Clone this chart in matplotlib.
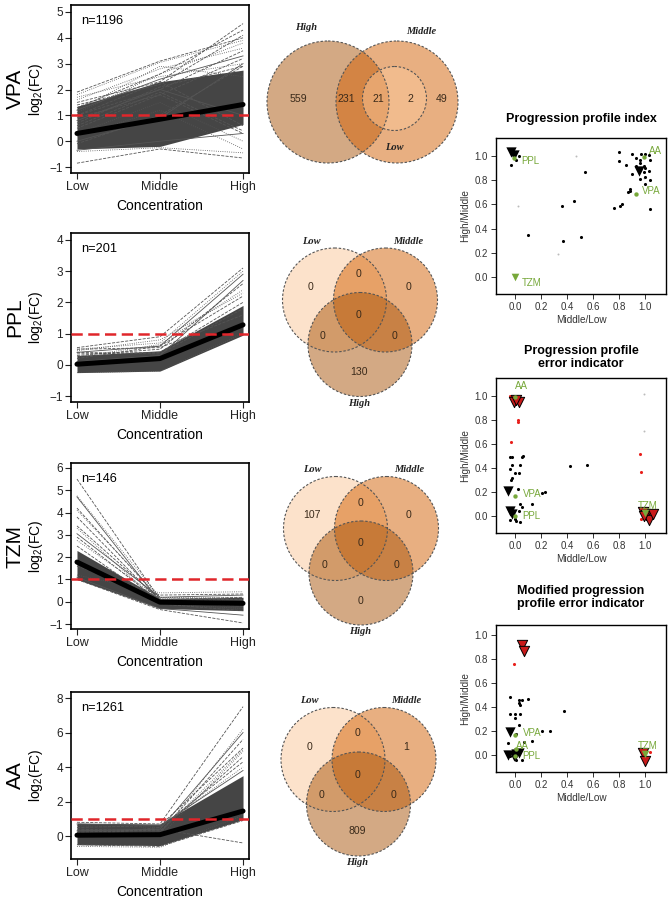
import matplotlib
matplotlib.use('Agg')
import matplotlib.pyplot as plt
from matplotlib.patches import Circle

plt.rcParams['font.family'] = ['Liberation Sans', 'DejaVu Sans']
plt.rcParams['mathtext.fontset'] = 'custom'
plt.rcParams['mathtext.rm'] = 'Liberation Sans'
plt.rcParams['mathtext.it'] = 'Liberation Sans:italic'
plt.rcParams['mathtext.default'] = 'regular'

# ---------------- data ----------------
conc_labels = ['Low', 'Middle', 'High']
compounds = ['VPA', 'PPL', 'TZM', 'AA']
n_genes = [1196, 201, 146, 1261]

vpa_mean = [0.30, 0.85, 1.42]
ppl_mean = [0.02, 0.20, 1.28]
tzm_mean = [1.78, -0.02, -0.07]
aa_mean = [0.05, 0.08, 1.45]

vpa_band_lo = [-0.30, -0.20, 0.65]
vpa_band_hi = [1.35, 2.30, 2.75]
ppl_band_lo = [-0.25, -0.20, 0.95]
ppl_band_hi = [0.30, 0.45, 1.90]
tzm_band_lo = [1.00, -0.30, -0.40]
tzm_band_hi = [2.30, 0.15, 0.20]
aa_band_lo = [-0.50, -0.55, 0.95]
aa_band_hi = [0.75, 0.70, 3.50]

vpa_lines = [[-0.85, -0.30, -0.65], [-0.40, -0.25, -0.45], [-0.35, 0.00, 0.30],
             [1.90, 3.10, 4.00], [1.80, 3.05, 3.90], [1.50, 2.30, 4.55],
             [1.30, 2.60, 4.30], [1.60, 2.80, 3.60], [1.20, 2.40, 3.30],
             [1.40, 2.20, 4.10], [1.70, 2.50, 3.00], [1.00, 2.00, 3.50],
             [0.90, 1.80, 3.20], [1.20, 2.90, 2.50], [0.80, 2.00, 1.00],
             [0.50, 1.80, 0.30], [0.30, 1.50, 0.00], [1.00, 2.30, 0.60],
             [0.60, 1.90, 0.40], [0.20, 1.20, -0.30], [0.00, 0.90, 3.00],
             [-0.10, 1.00, 2.90], [1.10, 2.60, 3.80], [0.70, 2.10, 2.90]]
ppl_lines = [[0.55, 0.90, 3.10], [0.50, 0.70, 3.00], [0.40, 0.60, 2.90],
             [0.30, 0.50, 2.60], [0.45, 0.80, 2.30], [0.20, 0.60, 2.20],
             [0.35, 0.40, 2.00], [-0.25, -0.20, 1.00], [0.10, 0.30, 2.70],
             [0.50, 0.55, 1.60], [0.25, 0.65, 2.40], [0.40, 0.35, 1.80]]
tzm_lines = [[5.50, 0.10, 0.20], [4.75, 0.20, 0.10], [4.70, 0.00, -0.10],
             [4.20, 0.10, 0.00], [4.10, 0.20, 0.20], [3.80, 0.00, -0.20],
             [3.40, 0.10, 0.10], [3.30, -0.10, -0.30], [3.05, 0.20, 0.30],
             [2.90, 0.00, -0.10], [2.75, 0.15, 0.00], [2.50, -0.10, -0.40],
             [1.00, -0.35, -0.95], [1.20, 0.40, 0.45], [1.10, -0.30, -0.60],
             [1.60, 0.30, 0.35]]
aa_lines = [[0.80, 0.70, 7.50], [0.20, 0.10, 6.20], [0.30, 0.40, 6.00],
            [0.50, 0.60, 5.10], [0.10, 0.20, 5.00], [0.40, 0.30, 4.60],
            [0.00, 0.50, 4.30], [0.60, 0.50, 4.00], [0.70, 0.60, 3.80],
            [0.20, 0.40, -0.40], [-0.60, -0.65, 1.20], [-0.50, -0.60, 0.90],
            [0.30, 0.20, 5.60], [0.10, 0.00, 4.90]]

threshold = 1.0

# Venn counts
vpa_venn_counts = [559, 231, 21, 2, 49]          # High, High&Mid, High&Mid&Low, Mid&Low, Mid
ppl_venn_counts = [0, 0, 0, 0, 0, 0, 130]        # Low, Low&Mid, Mid, Low&High, all, Mid&High, High
tzm_venn_counts = [107, 0, 0, 0, 0, 0, 0]
aa_venn_counts = [0, 0, 1, 0, 0, 0, 809]
venn_set_names = ['Low', 'Middle', 'High']

# Scatter panels
p1_dot_x = [-0.03, 0.03, 0.01, 0.54, 0.45, 0.36, 0.10, 0.37, 0.51, 0.80, 0.80, 0.85, 0.90,
            0.93, 0.96, 0.97, 0.99, 1.00, 1.03, 1.04, 0.99, 1.00, 1.03, 0.99, 1.00, 0.96,
            1.04, 1.00, 0.90, 0.88, 0.88, 0.87, 0.82, 0.81, 0.76, 1.04, 0.93, 0.96]
p1_dot_y = [0.93, 1.00, 0.97, 0.87, 0.63, 0.59, 0.35, 0.30, 0.33, 1.03, 0.96, 0.93, 1.02,
            0.98, 0.97, 1.02, 0.99, 1.02, 1.01, 0.97, 0.92, 0.90, 0.88, 0.87, 0.83, 0.81,
            0.80, 0.77, 0.85, 0.73, 0.71, 0.70, 0.60, 0.59, 0.57, 0.56, 0.92, 0.94]
p1_faint_x = [0.47, 0.02, 0.33, 0.99]
p1_faint_y = [1.00, 0.59, 0.19, 0.82]
p1_tri_x = [-0.03, -0.01, 0.95]
p1_tri_y = [1.03, 1.01, 0.88]
p1_red_x = []
p1_red_y = []
p1_redtri_x = []
p1_redtri_y = []
p1_green_x = [0.93, -0.01, 0.00, 0.99]
p1_green_y = [0.69, 0.985, 0.00, 0.99]

p2_dot_x = [-0.04, -0.02, 0.05, 0.06, -0.02, 0.04, -0.04, 0.00, 0.03, -0.02, -0.03, 0.42,
            0.55, 0.02, 0.23, 0.21, 0.04, 0.05, 0.13, -0.04, 0.01, 0.04, 0.03, 0.00]
p2_dot_y = [0.49, 0.49, 0.49, 0.50, 0.43, 0.43, 0.39, 0.36, 0.36, 0.32, 0.30, 0.42,
            0.43, 0.23, 0.20, 0.19, 0.10, 0.08, 0.10, -0.03, -0.04, -0.05, 0.04, -0.02]
p2_faint_x = [0.99, 0.99]
p2_faint_y = [1.02, 0.71]
p2_tri_x = [-0.05, -0.04, -0.02]
p2_tri_y = [0.21, 0.045, 0.02]
p2_red_x = [-0.04, 0.02, 0.02, -0.03, 0.96, 0.97, 0.97, 1.04]
p2_red_y = [1.00, 0.80, 0.78, 0.62, 0.52, 0.37, -0.02, 0.03]
p2_redtri_x = [-0.01, 0.03, 0.01, 0.98, 1.01, 1.03, 1.06, 0.99]
p2_redtri_y = [0.95, 0.95, 0.97, 0.035, 0.01, -0.03, 0.02, 0.00]
p2_green_x = [0.00, 0.00, 1.00, 0.00]
p2_green_y = [0.17, 0.00, 0.03, 0.99]

p3_dot_x = [-0.04, 0.03, 0.05, 0.10, 0.03, 0.04, 0.38, -0.04, 0.00, 0.04, 0.00, 0.03,
            0.21, 0.27, 0.01, -0.05, 0.07, 0.13, -0.04, 0.01, 0.05, 0.02]
p3_dot_y = [0.48, 0.46, 0.46, 0.47, 0.43, 0.42, 0.37, 0.34, 0.34, 0.34, 0.31, 0.25,
            0.20, 0.20, 0.18, 0.10, 0.11, 0.12, -0.01, -0.04, -0.04, 0.03]
p3_faint_x = []
p3_faint_y = []
p3_tri_x = [-0.04, -0.05, 0.01, 0.03, -0.01]
p3_tri_y = [0.195, 0.00, 0.01, 0.015, -0.01]
p3_red_x = [-0.01, 1.04]
p3_red_y = [0.76, 0.03]
p3_redtri_x = [0.05, 0.07, 0.98, 1.00]
p3_redtri_y = [0.92, 0.87, 0.02, -0.05]
p3_green_x = [0.00, 0.00, 1.00, 0.01]
p3_green_y = [0.17, -0.01, 0.01, 0.05]

scatter_titles = ['Progression profile index',
                  'Progression profile\nerror indicator',
                  'Modified progression\nprofile error indicator']
scatter_ticks = [0.0, 0.2, 0.4, 0.6, 0.8, 1.0]

# ---------------- figure ----------------
W, H = 672, 915
fig = plt.figure(figsize=(W / 100, H / 100), dpi=100)

def px_rect(x0, y0, x1, y1):
    return [x0 / W, 1 - y1 / H, (x1 - x0) / W, (y1 - y0) / H]

line_boxes = [(71, 5, 249, 173), (71, 233, 249, 402), (71, 463, 249, 629), (71, 692, 249, 859)]
line_ylims = [(-1.23, 5.27), (-1.19, 4.22), (-1.22, 6.22), (-1.33, 8.35)]
line_yticks = [range(-1, 6), range(-1, 5), range(-1, 7), range(0, 9, 2)]
means = [vpa_mean, ppl_mean, tzm_mean, aa_mean]
bands = [(vpa_band_lo, vpa_band_hi), (ppl_band_lo, ppl_band_hi),
         (tzm_band_lo, tzm_band_hi), (aa_band_lo, aa_band_hi)]
profiles = [vpa_lines, ppl_lines, tzm_lines, aa_lines]
style_cycle = ['--', ':', '-', '--', ':', '--']

xs = [0, 1, 2]
for i in range(4):
    ax = fig.add_axes(px_rect(*line_boxes[i]))
    lo, hi = bands[i]
    ax.fill_between(xs, lo, hi, color='#454545', lw=0, zorder=1)
    for k, prof in enumerate(profiles[i]):
        ax.plot(xs, prof, color='#555555', lw=0.6, ls=style_cycle[k % len(style_cycle)], zorder=2)
    ax.plot(xs, means[i], color='black', lw=3.6, solid_capstyle='round', zorder=3)
    ax.axhline(threshold, color='#e0262b', lw=1.8, ls=(0, (4.5, 2.2)), zorder=4)
    ax.set_xlim(-0.072, 2.072)
    ax.set_ylim(*line_ylims[i])
    ax.set_xticks(xs)
    ax.set_xticklabels(conc_labels, fontsize=9)
    ax.set_yticks(list(line_yticks[i]))
    ax.set_yticklabels([('\u2212' + str(-v)) if v < 0 else str(v) for v in line_yticks[i]], fontsize=8.5)
    ax.tick_params(direction='out', length=4.3, width=0.8, pad=1.5, colors='#222222')
    for s in ax.spines.values():
        s.set_linewidth(1.2)
    ax.set_xlabel('Concentration', fontsize=10, labelpad=4)
    ax.text(0.055, 0.94, 'n=%d' % n_genes[i], transform=ax.transAxes, fontsize=9.2,
            ha='left', va='top')

# scatter panels
sc_boxes = [(496, 138, 666, 294), (496, 378, 666, 533), (496, 625, 666, 772)]
sc_ylims = [(-0.14, 1.149), (-0.14, 1.15), (-0.14, 1.083)]
sc_data = [
    (p1_dot_x, p1_dot_y, p1_faint_x, p1_faint_y, p1_tri_x, p1_tri_y, p1_red_x, p1_red_y,
     p1_redtri_x, p1_redtri_y, p1_green_x, p1_green_y),
    (p2_dot_x, p2_dot_y, p2_faint_x, p2_faint_y, p2_tri_x, p2_tri_y, p2_red_x, p2_red_y,
     p2_redtri_x, p2_redtri_y, p2_green_x, p2_green_y),
    (p3_dot_x, p3_dot_y, p3_faint_x, p3_faint_y, p3_tri_x, p3_tri_y, p3_red_x, p3_red_y,
     p3_redtri_x, p3_redtri_y, p3_green_x, p3_green_y),
]
# label offsets (points) for VPA, PPL, TZM, AA in each panel
label_offsets = [
    [(4.5, 1.5, 'left'), (5.5, -2.5, 'left'), (5, -4.5, 'left'), (3.5, 4.5, 'left')],
    [(5.5, 1, 'left'), (5.5, 0, 'left'), (1.5, 4.5, 'center'), (5, 8, 'center')],
    [(5.5, 1, 'left'), (5.5, 0, 'left'), (1.5, 6, 'center'), (4.5, 2.5, 'center')],
]
green = '#77a83a'
for j in range(3):
    ax = fig.add_axes(px_rect(*sc_boxes[j]))
    (dx, dy, fx, fy, tx, ty, rx, ry, rtx, rty, gx, gy) = sc_data[j]
    ax.scatter(fx, fy, s=2, color='#bbbbbb', lw=0, zorder=2)
    ax.scatter(dx, dy, s=5, color='black', lw=0, zorder=3)
    ax.scatter(rx, ry, s=5, color='#e8201c', lw=0, zorder=3)
    ax.scatter(tx, ty, s=55, marker='v', color='black', lw=0, zorder=4)
    ax.scatter(rtx, rty, s=55, marker='v', facecolor='#c81a1a', edgecolor='black', lw=0.7, zorder=4)
    for k, name in enumerate(compounds):
        big = (name == 'TZM')
        ax.scatter([gx[k]], [gy[k]], s=30 if big else 10, marker='v' if big else 'o',
                   color=green, lw=0, zorder=5)
        ox, oy, ha = label_offsets[j][k]
        ax.annotate(name, (gx[k], gy[k]), xytext=(ox, oy), textcoords='offset points',
                    ha=ha, va='center', fontsize=7, color=green, zorder=6)
    ax.set_xlim(-0.146, 1.16)
    ax.set_ylim(*sc_ylims[j])
    ax.set_xticks(scatter_ticks)
    ax.set_yticks(scatter_ticks)
    ax.set_xticklabels(['%.1f' % t for t in scatter_ticks])
    ax.set_yticklabels(['%.1f' % t for t in scatter_ticks])
    ax.tick_params(direction='out', length=3.8, width=0.7, pad=2, labelsize=7, colors='#333333')
    for s in ax.spines.values():
        s.set_linewidth(1.0)
    ax.set_xlabel('Middle/Low', fontsize=7.2, labelpad=2, color='#333333')
    ax.set_ylabel('High/Middle', fontsize=7.2, labelpad=3, color='#333333')

# overlay in pixel coordinates
ov = fig.add_axes([0, 0, 1, 1])
ov.set_xlim(0, W)
ov.set_ylim(H, 0)
ov.axis('off')

# y-axis labels for line plots
for i in range(4):
    x0, y0, x1, y1 = line_boxes[i]
    cy = (y0 + y1) / 2
    ov.text(15, cy, compounds[i], rotation=90, ha='center', va='center', fontsize=15)
    ov.text(36, cy, 'log$_2$(FC)', rotation=90, ha='center', va='center', fontsize=10)

# scatter titles
title_y = [119, 357.5, 597.5]
for j in range(3):
    ov.text(581, title_y[j], scatter_titles[j], ha='center', va='center', fontsize=9,
            fontweight='bold', linespacing=1.15)

# Venn diagrams
c_low = '#fbc799'
c_mid = '#d36105'
c_high = '#a9550b'
edge_kw = dict(edgecolor='#555555', lw=0.8, ls=(0, (2.2, 1.6)))
lab_font = dict(family='Liberation Serif', style='italic', weight='bold', fontsize=7.5,
                color='#222222')
num_font = dict(fontsize=7.6, color='#3a2a1a', ha='center', va='center')

# VPA (nested layout)
for (cx, cy, r, col) in [(328, 102, 61, c_high), (397, 102, 61, c_mid), (394.5, 98.5, 32, c_low)]:
    ov.add_patch(Circle((cx, cy), r, facecolor=col, alpha=0.5, lw=0))
for (cx, cy, r) in [(328, 102, 61), (397, 102, 61), (394.5, 98.5, 32)]:
    ov.add_patch(Circle((cx, cy), r, facecolor='none', **edge_kw))
for val, x in zip(vpa_venn_counts, [298, 346, 378, 410, 442]):
    ov.text(x, 99, str(val), **num_font)
ov.text(306, 28, 'High', ha='center', va='center', **lab_font)
ov.text(421, 32, 'Middle', ha='center', va='center', **lab_font)
ov.text(394, 147, 'Low', ha='center', va='center', **lab_font)

# three-circle venns
venn_low_centers = [(334.5, 300), (335.5, 528.5), (333, 759.5)]
venn_counts = [ppl_venn_counts, tzm_venn_counts, aa_venn_counts]
num_offsets = [(-23.5, -13), (24.5, -26), (73.5, -13), (-11.5, 36), (24.5, 15), (60.5, 36), (24.5, 72)]
r3 = 52
for (lx, ly), counts in zip(venn_low_centers, venn_counts):
    centers = [(lx, ly), (lx + 51, ly), (lx + 25.5, ly + 44.5)]
    for (cx, cy), col in zip(centers, [c_low, c_mid, c_high]):
        ov.add_patch(Circle((cx, cy), r3, facecolor=col, alpha=0.5, lw=0))
    for (cx, cy) in centers:
        ov.add_patch(Circle((cx, cy), r3, facecolor='none', **edge_kw))
    for val, (ox, oy) in zip(counts, num_offsets):
        ov.text(lx + ox, ly + oy, str(val), **num_font)
    ov.text(lx - 23.5, ly - 59, venn_set_names[0], ha='center', va='center', **lab_font)
    ov.text(lx + 73.5, ly - 59, venn_set_names[1], ha='center', va='center', **lab_font)
    ov.text(lx + 24.5, ly + 103, venn_set_names[2], ha='center', va='center', **lab_font)

fig.savefig('out.png', dpi=100)
